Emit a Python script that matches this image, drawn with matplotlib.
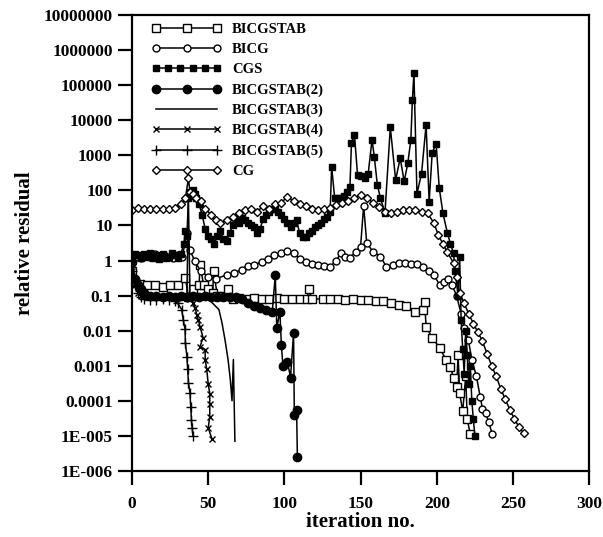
import matplotlib
matplotlib.use('Agg')
import matplotlib.pyplot as plt
from matplotlib.legend_handler import HandlerLine2D

plt.rcParams['font.family'] = ['Liberation Serif', 'DejaVu Serif']
plt.rcParams['font.weight'] = 'bold'

# residual histories (iteration, relative residual)
bicgstab_x = [0, 2, 5, 10, 15, 20, 25, 30, 35, 37, 40, 44, 44.6, 47, 50, 53, 53.5, 56, 60, 63, 66, 70,
              75, 80, 85, 90, 95, 100, 105, 110, 115, 116, 118, 125, 130, 135, 140, 145, 150, 155,
              160, 165, 170, 175, 180, 186, 191, 192, 193, 197, 202, 206, 209, 211, 213, 214, 215,
              217, 219, 220, 222]
bicgstab_y = [0.5, 0.25, 0.22, 0.2, 0.2, 0.18, 0.2, 0.2, 0.32, 0.09, 0.15, 0.2, 0.75, 0.2, 0.15, 0.12,
              0.5, 0.1, 0.1, 0.15, 0.08, 0.085, 0.08, 0.085, 0.08, 0.08, 0.085, 0.08, 0.08, 0.08,
              0.08, 0.15, 0.08, 0.08, 0.08, 0.08, 0.075, 0.08, 0.075, 0.075, 0.07, 0.07, 0.06,
              0.055, 0.05, 0.035, 0.04, 0.066, 0.013, 0.0063, 0.0032, 0.0015, 9e-4, 4.6e-4,
              2.5e-4, 0.002, 1.7e-4, 5e-5, 5e-4, 3e-5, 1.1e-5]

bicg_x = [0, 3, 6, 9, 12, 15, 18, 21, 24, 27, 30, 33, 36, 38, 41, 45, 50, 55, 62, 67, 72, 76, 80, 85,
          89, 93, 98, 102, 106, 110, 114, 118, 122, 126, 130, 134, 137, 140, 143, 147, 150, 152,
          154, 158, 163, 167, 171, 175, 179, 183, 187, 191, 195, 198, 202, 205, 207.5, 210, 213,
          216, 218, 220.7, 223, 226, 228.5, 230, 232, 234, 236.5]
bicg_y = [0.85, 1.3, 1.2, 1.4, 1.3, 1.5, 1.2, 1.4, 1.3, 1.2, 1.4, 1.3, 6, 2, 1, 0.5, 0.35, 0.3, 0.39,
          0.45, 0.55, 0.7, 0.76, 0.9, 1.1, 1.45, 1.6, 1.9, 1.6, 1.1, 0.9, 0.8, 0.75, 0.7, 0.66,
          1.0, 1.6, 1.3, 1.2, 1.8, 2.5, 37, 3.2, 1.8, 1.3, 0.66, 0.75, 0.85, 0.85, 0.8, 0.78, 0.66,
          0.5, 0.39, 0.2, 0.25, 0.3, 0.2, 0.1, 0.03, 0.012, 0.0055, 0.0015, 5e-4, 1.3e-4, 6e-5,
          4.6e-5, 2.5e-5, 1.1e-5]

cgs_x = [0, 2, 4, 6, 8, 10, 12, 14, 16, 18, 20, 22, 24, 26, 28, 30, 32, 34, 35, 36, 37, 38, 39, 40, 41,
         42, 44, 46, 48, 50, 52, 54, 56, 58, 60, 62, 64, 66, 68, 70, 72, 74, 76, 78, 80, 82, 84, 86,
         88, 90, 92, 94, 96, 98, 100, 102, 104, 106, 108, 110, 112, 114, 116, 118, 120, 122, 124,
         126, 128, 130, 131, 133, 135, 137, 139, 141, 143, 144, 146, 148, 150, 153, 155, 157.5,
         159, 161, 163, 166, 169.5, 173, 176, 178.6, 181, 183, 184, 185, 187, 190, 193, 195, 197,
         199.6, 201.6, 204, 207, 209, 211, 212, 214, 215, 216, 217, 218, 219, 220, 221, 222, 223,
         224, 225]
cgs_y = [1.0, 1.5, 1.4, 1.2, 1.5, 1.3, 1.6, 1.2, 1.4, 1.1, 1.5, 1.2, 1.3, 1.6, 1.4, 1.2, 1.5, 3, 7, 5,
         60, 90, 70, 100, 80, 60, 40, 20, 8, 5, 4, 3, 5, 7, 4, 3.5, 6, 10, 15, 12, 16, 14, 12, 10, 9,
         6, 8, 15, 20, 25, 30, 30, 25, 20, 15, 12, 9, 12, 14, 6, 4.7, 4.7, 6, 7, 9, 10, 12, 15, 18,
         25, 470, 60, 60, 60, 70, 90, 125, 2200, 3800, 275, 250, 220, 300, 2800, 900, 145, 60, 23,
         6300, 200, 830, 180, 600, 2800, 38000, 220000, 80, 300, 7400, 47, 1200, 2100, 120, 23, 6,
         3, 1.6, 0.5, 0.1, 1.3, 0.02, 0.003, 6e-4, 0.01, 0.002, 3e-4, 0.001, 1e-4, 3e-5, 1e-5]

bicgstab2_x = [0, 2, 4, 6, 8, 12, 16, 20, 24, 28, 32, 36, 40, 44, 48, 52, 56, 60, 64, 68, 72, 76, 80,
               84, 88, 92, 94, 95, 97, 98, 99, 102, 104, 106, 106.5, 108, 108.5]
bicgstab2_y = [0.9, 0.3, 0.2, 0.15, 0.12, 0.1, 0.1, 0.09, 0.1, 0.09, 0.1, 0.09, 0.1, 0.09, 0.1, 0.09,
               0.09, 0.09, 0.09, 0.09, 0.08, 0.06, 0.05, 0.045, 0.04, 0.035, 0.38, 0.012, 0.035,
               0.004, 0.001, 0.0013, 4.6e-4, 0.0085, 4e-5, 5.6e-5, 2.5e-6]

bicgstab3_x = [0, 3, 6, 10, 15, 20, 25, 30, 36, 37, 38, 42, 46, 50, 52.5, 57, 59, 61, 63, 64.5, 65.6,
               66.5, 67, 67.5]
bicgstab3_y = [0.5, 0.2, 0.13, 0.1, 0.09, 0.09, 0.09, 0.09, 0.09, 60, 0.1, 0.09, 0.09, 0.08, 0.063,
               0.04, 0.017, 0.0055, 0.0015, 4e-4, 1e-4, 0.0015, 1e-4, 7e-6]

bicgstab4_x = [0, 2, 4, 6, 10, 15, 20, 25, 30, 35, 38, 40, 41.4, 42.5, 43.5, 44.6, 46.6, 44.6, 48, 48,
               49, 50, 51, 51, 51, 50, 52.5]
bicgstab4_y = [0.5, 0.2, 0.12, 0.1, 0.09, 0.09, 0.09, 0.09, 0.09, 0.09, 0.08, 0.06, 0.045, 0.028,
               0.02, 0.013, 0.0063, 0.0035, 0.0029, 0.0015, 8e-4, 3e-4, 1.6e-4, 8e-5, 3.5e-5,
               1.7e-5, 8e-6]

bicgstab5_x = [0, 2, 4, 6, 8, 12, 16, 20, 24, 28, 30, 32.6, 33.6, 34.8, 35, 36, 36.5, 37, 38, 38.5,
               39, 39.4, 40]
bicgstab5_y = [0.5, 0.2, 0.12, 0.09, 0.08, 0.075, 0.075, 0.08, 0.075, 0.07, 0.06, 0.04, 0.02, 0.011,
               0.0045, 0.0018, 8e-4, 3.3e-4, 1.7e-4, 6.8e-5, 2.9e-5, 1.7e-5, 1e-5]

cg_x = [0, 4, 8, 12, 16, 20, 24, 28, 32, 35, 37, 38, 40, 42, 45, 48, 52, 55, 58, 62, 66, 70, 74, 78,
        82, 86, 90, 94, 98, 102, 106, 110, 114, 118, 122, 126, 130, 134, 138, 142, 146, 150, 154,
        158, 162, 166, 170, 174, 178, 182, 186, 190, 194, 198, 201, 204, 207, 211, 213, 215, 218,
        221, 224, 227, 230, 233, 236, 239, 242, 245, 248, 251, 254, 257]
cg_y = [28, 32, 30, 30, 30, 30, 30, 32, 40, 60, 220, 90, 80, 60, 50, 30, 20, 14, 12, 14, 18, 22, 28,
        30, 25, 35, 30, 40, 45, 66, 50, 40, 35, 30, 28, 30, 32, 38, 45, 50, 60, 74, 62, 45, 34, 24,
        22, 25, 28, 27, 28, 25, 22, 12, 5.4, 3, 1.7, 0.85, 0.35, 0.12, 0.06, 0.03, 0.016, 0.009,
        0.005, 0.0022, 0.001, 5e-4, 2.2e-4, 1.1e-4, 5.5e-5, 3e-5, 1.8e-5, 1.2e-5]

ytick_vals = [1e7, 1e6, 1e5, 1e4, 1e3, 100, 10, 1, 0.1, 0.01, 0.001, 1e-4, 1e-5, 1e-6]
ytick_labels = ['10000000', '1000000', '100000', '10000', '1000', '100', '10', '1', '0.1', '0.01',
                '0.001', '0.0001', '1E-005', '1E-006']
xtick_vals = [0, 50, 100, 150, 200, 250, 300]

fig = plt.figure(figsize=(6.03, 5.37), dpi=100)
ax = fig.add_axes([0.219, 0.123, 0.758, 0.849])

lw = 1.1
ax.plot(bicgstab_x, bicgstab_y, color='black', lw=lw, marker='s', ms=5.5, mfc='white', mew=1,
        label='BICGSTAB')
ax.plot(bicg_x, bicg_y, color='black', lw=lw, marker='o', ms=5, mfc='white', mew=1, label='BICG')
cgs_line, = ax.plot(cgs_x, cgs_y, color='black', lw=lw, marker='s', ms=4, mfc='black',
                    label='CGS')
ax.plot(bicgstab2_x, bicgstab2_y, color='black', lw=lw, marker='o', ms=6, mfc='black',
        label='BICGSTAB(2)')
ax.plot(bicgstab3_x, bicgstab3_y, color='black', lw=lw, label='BICGSTAB(3)')
ax.plot(bicgstab4_x, bicgstab4_y, color='black', lw=lw, marker='x', ms=5, mew=1,
        label='BICGSTAB(4)')
ax.plot(bicgstab5_x, bicgstab5_y, color='black', lw=lw, marker='+', ms=7, mew=1,
        label='BICGSTAB(5)')
ax.plot(cg_x, cg_y, color='black', lw=lw, marker='D', ms=4.5, mfc='white', mew=1, label='CG')

ax.set_yscale('log')
ax.set_xlim(0, 300)
ax.set_ylim(1e-6, 1e7)
ax.set_yticks(ytick_vals)
ax.set_yticklabels(ytick_labels)
ax.minorticks_off()
ax.set_xticks(xtick_vals)

for s in ax.spines.values():
    s.set_linewidth(1.6)
ax.tick_params(axis='y', direction='out', length=10, width=1.6, pad=4, labelsize=12.5)
ax.tick_params(axis='x', direction='out', length=10, width=1.6, pad=8, labelsize=12.5)

ax.set_xlabel('iteration no.', fontsize=15, fontweight='bold', labelpad=0)
ax.set_ylabel('relative residual', fontsize=15, fontweight='bold', labelpad=6)

ax.legend(loc='upper left', bbox_to_anchor=(0.03, 0.995), frameon=False, fontsize=10.5,
          numpoints=3, handlelength=4.8, handletextpad=0.7, labelspacing=0.47, borderaxespad=0,
          handler_map={cgs_line: HandlerLine2D(numpoints=6)})

fig.savefig('out.png', dpi=100)
